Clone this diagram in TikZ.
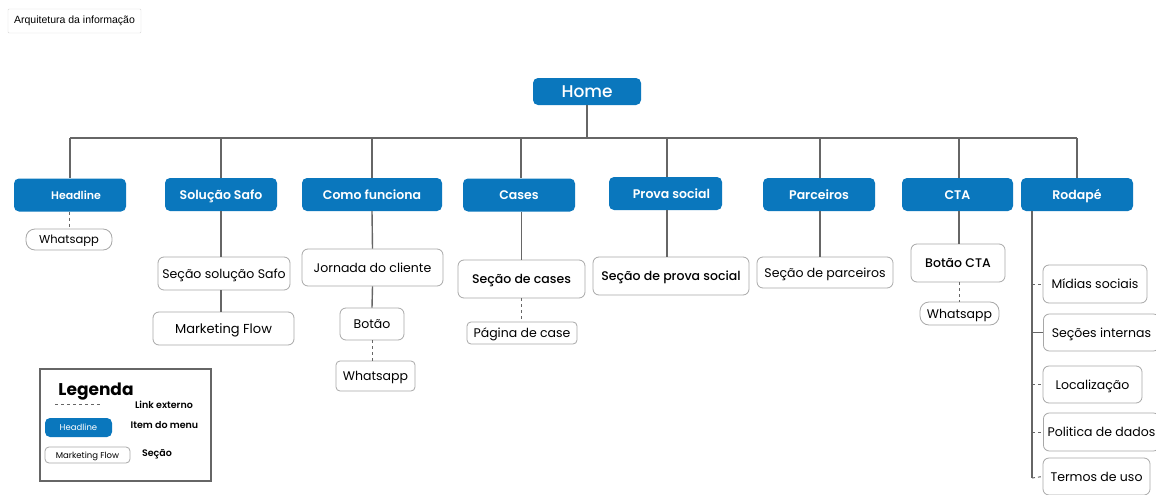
\documentclass[tikz,border=0pt]{standalone}
\usepackage{fontspec}
\setmainfont{Poppins}
\newfontfamily\semib{Poppins SemiBold}
\newfontfamily\medf{Poppins Medium}
\newfontfamily\uifont{Liberation Sans}
\definecolor{menublue}{HTML}{0A77BD}
\definecolor{linegray}{HTML}{666666}
\definecolor{boxgray}{HTML}{A8A8A8}
\tikzset{
  menu/.style={fill=menublue, rounded corners=5pt, text=white, inner sep=0pt,
    text height=9pt, text depth=0pt,
    minimum width=112pt, minimum height=33pt, font=\semib\fontsize{12.5}{14}\selectfont},
  sec/.style={draw=boxgray, fill=white, rounded corners=6pt, inner sep=0pt, line width=0.8pt,
    text height=9pt, text depth=0pt,
    font=\fontsize{12.5}{14}\selectfont},
  conn/.style={draw=linegray, line width=1.4pt},
  ext/.style={draw=linegray, line width=1pt, dash pattern=on 3pt off 3pt},
  leglabel/.style={font=\semib\fontsize{9.5}{11}\selectfont},
}
\begin{document}
\begin{tikzpicture}[x=1pt,y=-1pt]
\useasboundingbox[fill=white] (0,0) rectangle (1156,495);

\node[draw=black!15, fill=white, rounded corners=1pt, minimum width=133pt, minimum height=24pt, inner sep=0pt, font=\uifont\fontsize{10.5}{12}\selectfont] (title) at (74.5,21) {Arquitetura da informação};

% Home and bus
\node[menu, minimum width=108pt, minimum height=27pt, text height=12pt, font=\medf\fontsize{17}{19}\selectfont] (home) at (587,91.5) {Home};
\coordinate (busL) at (70,138);
\coordinate (busR) at (1077,138);
\draw[conn] (busL) -- (busR);
\draw[conn] (home.south) -- (home.south |- busL);

% Menu items
\node[menu, text height=8pt, font=\semib\fontsize{11}{13}\selectfont] (m1) at (70,195) {\hspace*{12pt}Headline};
\node[menu] (m2) at (221,194.5) {Solução Safo};
\node[menu, minimum width=140pt] (m3) at (372,194.5) {Como funciona};
\node[menu] (m4) at (519,195) {Cases};
\node[menu, minimum width=113pt] (m5) at (665.5,193.5) {\hspace*{12pt}Prova social};
\node[menu] (m6) at (819,194.5) {Parceiros};
\node[menu, minimum width=111pt] (m7) at (957.5,194.5) {CTA};
\node[menu] (m8) at (1077,194.5) {Rodapé};

\foreach \m/\x in {m1/70,m2/221,m3/372,m4/521,m5/667,m6/820,m7/959,m8/1077}{
  \draw[conn] (\x,138) -- (\m.north -| {(\x,0)});
}

% Headline
\node[sec, minimum width=86pt, minimum height=21pt, rounded corners=9pt, text height=8.5pt, font=\fontsize{11.5}{13}\selectfont] (w1) at (69,239.5) {Whatsapp};
\draw[ext] (m1.south -| w1.north) -- (w1.north);

% Solucao Safo
\node[sec, minimum width=132pt, minimum height=33pt] (s2) at (224,273.5) {Seção solução Safo};
\node[sec, minimum width=141pt, minimum height=33pt, font=\fontsize{13}{15}\selectfont] (s2b) at (223.5,328.5) {Marketing Flow};
\draw[conn] (m2.south) -- (m2.south |- s2.north);
\draw[conn] (m2.south |- s2.south) -- (m2.south |- s2b.north);

% Como funciona
\node[sec, minimum width=141pt, minimum height=37pt] (s3) at (372.5,267.5) {Jornada do cliente};
\node[sec, minimum width=64pt, minimum height=32pt] (b3) at (372,324) {Botão};
\node[sec, minimum width=79pt, minimum height=30pt, rounded corners=4pt] (w3) at (375.5,376) {Whatsapp};
\draw[conn] (m3.south) -- (s3.north);
\draw[conn] (s3.south) -- (b3.north);
\draw[ext] (b3.south) -- (b3.south |- w3.north);

% Cases
\node[sec, minimum width=127pt, minimum height=38pt, font=\medf\fontsize{12.5}{14}\selectfont] (s4) at (521.5,279) {Seção de cases};
\node[sec, minimum width=110pt, minimum height=22pt, rounded corners=4pt] (p4) at (522,333) {Página de case};
\draw[conn] (m4.south -| s4.north) -- (s4.north);
\draw[ext] (s4.south) -- (s4.south |- p4.north);

% Prova social
\node[sec, minimum width=156pt, minimum height=38pt, font=\medf\fontsize{12.5}{14}\selectfont] (s5) at (671,276) {Seção de prova social};
\draw[conn] (m5.south -| {(667,0)}) -- (s5.north -| {(667,0)});

% Parceiros
\node[sec, minimum width=136pt, minimum height=31pt] (s6) at (825,272.5) {Seção de parceiros};
\draw[conn] (m6.south -| {(820,0)}) -- (s6.north -| {(820,0)});

% CTA
\node[sec, minimum width=94pt, minimum height=38pt, font=\medf\fontsize{12.5}{14}\selectfont] (s7) at (958,263) {Botão CTA};
\node[sec, minimum width=79pt, minimum height=23pt, rounded corners=9pt] (w7) at (959.5,313.5) {Whatsapp};
\draw[conn] (m7.south -| {(959,0)}) -- (s7.north -| {(959,0)});
\draw[ext] (s7.south -| {(959,0)}) -- (w7.north -| {(959,0)});

% Rodape
\coordinate (rtop) at (1032,211);
\coordinate (rbot) at (1032,478);
\draw[conn] (rtop) -- (rbot);
\node[sec, minimum width=104pt, minimum height=38pt] (r1) at (1095,284) {Mídias sociais};
\node[sec, minimum width=116pt, minimum height=37pt, anchor=west] (r2) at (1043,332.5) {Seções internas};
\node[sec, minimum width=99pt, minimum height=37pt] (r3) at (1092.5,384.5) {Localização};
\node[sec, minimum width=116pt, minimum height=38pt, anchor=west] (r4) at (1043,432) {Politica de dados};
\node[sec, minimum width=107pt, minimum height=37pt] (r5) at (1096.5,476.5) {Termos de uso};
\draw[ext] (r1.west -| rtop) -- (r1.west);
\draw[conn] (r2.west -| rtop) -- (r2.west);
\draw[ext] (r3.west -| rtop) -- (r3.west);
\draw[ext] (r4.west -| rtop) -- (r4.west);
\draw[ext] (rbot) -- (r5.west);

% Legend
\node[draw=linegray, line width=1.2pt, minimum width=171pt, minimum height=112pt, inner sep=0pt] (leg) at (125.5,425) {};
\node[font=\bfseries\fontsize{17}{19}\selectfont] (legt) at (96,392) {Legenda};
\coordinate (lda) at (55,404);
\coordinate (ldb) at (102,404);
\draw[ext, line width=0.8pt] (lda) -- (ldb);
\node[leglabel] (l1) at (164,405) {Link externo};
\node[menu, minimum width=67pt, minimum height=19pt, text height=6pt, font=\fontsize{8.5}{10}\selectfont] (l2b) at (78.5,427.5) {Headline};
\node[leglabel] (l2) at (164.5,425) {Item do menu};
\node[sec, minimum width=85pt, minimum height=16pt, rounded corners=4pt, text height=6pt, font=\fontsize{8.5}{10}\selectfont] (l3b) at (87.5,455) {Marketing Flow};
\node[leglabel] (l3) at (157,454) {Seção};
\end{tikzpicture}
\end{document}
